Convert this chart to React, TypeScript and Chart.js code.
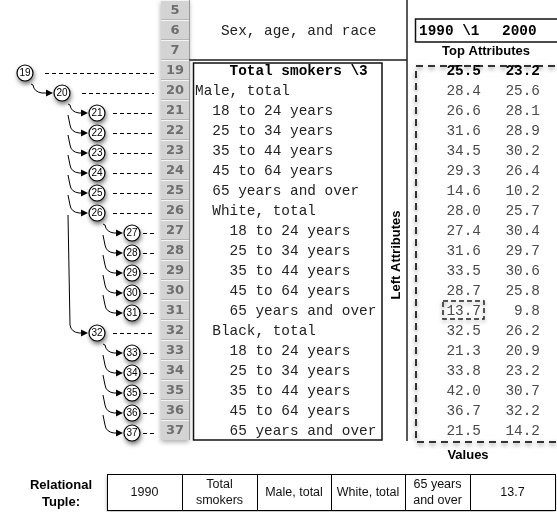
import React, { useEffect, useRef } from 'react';
import { Chart, registerables } from 'chart.js';

Chart.register(...registerables);

// ---- data ----
const rowNumbers = ['5', '6', '7', '19', '20', '21', '22', '23', '24', '25', '26', '27', '28', '29', '30', '31', '32', '33', '34', '35', '36', '37'];
const rowLabels = [
  '', '   Sex, age, and race', '',
  '    Total smokers \\3',
  'Male, total',
  '  18 to 24 years', '  25 to 34 years', '  35 to 44 years', '  45 to 64 years', '  65 years and over',
  '  White, total',
  '    18 to 24 years', '    25 to 34 years', '    35 to 44 years', '    45 to 64 years', '    65 years and over',
  '  Black, total',
  '    18 to 24 years', '    25 to 34 years', '    35 to 44 years', '    45 to 64 years', '    65 years and over',
];
const boldRow = '19';
const topAttributes = ['1990 \\1', '2000'];
const valueRows = ['19', '20', '21', '22', '23', '24', '25', '26', '27', '28', '29', '30', '31', '32', '33', '34', '35', '36', '37'];
const values1990 = [25.5, 28.4, 26.6, 31.6, 34.5, 29.3, 14.6, 28.0, 27.4, 31.6, 33.5, 28.7, 13.7, 32.5, 21.3, 33.8, 42.0, 36.7, 21.5];
const values2000 = [23.2, 25.6, 28.1, 28.9, 30.2, 26.4, 10.2, 25.7, 30.4, 29.7, 30.6, 25.8, 9.8, 26.2, 20.9, 23.2, 30.7, 32.2, 14.2];
const treeNodes = ['19', '20', '21', '22', '23', '24', '25', '26', '27', '28', '29', '30', '31', '32', '33', '34', '35', '36', '37'];
const treeParents = [null, '19', '20', '20', '20', '20', '20', '20', '26', '26', '26', '26', '26', '20', '32', '32', '32', '32', '32'];
const highlightRow = '31';
const highlightCol = 0;
const tupleLabel = ['Relational', 'Tuple:'];
const tupleCells = [['1990'], ['Total', 'smokers'], ['Male, total'], ['White, total'], ['65 years', 'and over'], ['13.7']];

const SANS = '"Liberation Sans", Arial, sans-serif';
const MONO = '"Liberation Mono", "DejaVu Sans Mono", monospace';

const diagramPlugin = {
  id: 'diagram',
  afterDraw(chart: any) {
    const ctx: CanvasRenderingContext2D = chart.ctx;
    const xs = chart.scales.x;
    const ys = chart.scales.y;
    const X = (v: number) => xs.getPixelForValue(v);
    const Y = (i: number) => ys.getPixelForValue(i);
    const rh = Math.abs(Y(1) - Y(0));
    const idx = (r: string) => rowNumbers.indexOf(r);
    const bottom = Y(rowNumbers.length - 0.5);

    ctx.save();
    // white background
    ctx.fillStyle = '#ffffff';
    ctx.fillRect(0, 0, chart.width, chart.height);

    // ---- row number column ----
    const cL = X(161), cR = X(189);
    ctx.save();
    ctx.shadowColor = 'rgba(0,0,0,0.35)';
    ctx.shadowBlur = 5;
    ctx.shadowOffsetY = 2;
    ctx.fillStyle = '#d3d3d3';
    ctx.fillRect(cL, Y(-0.5), cR - cL, bottom - Y(-0.5));
    ctx.restore();
    ctx.lineWidth = 1;
    for (let i = 0; i < rowNumbers.length; i++) {
      const top = Math.round(Y(i) - rh / 2) + 0.5;
      ctx.strokeStyle = '#f4f4f4';
      ctx.beginPath(); ctx.moveTo(cL, top); ctx.lineTo(cR, top); ctx.stroke();
      ctx.strokeStyle = '#b5b5b5';
      ctx.beginPath(); ctx.moveTo(cL, top - 1); ctx.lineTo(cR, top - 1); ctx.stroke();
    }
    ctx.strokeStyle = '#9a9a9a';
    ctx.beginPath(); ctx.moveTo(cR + 0.5, 0); ctx.lineTo(cR + 0.5, bottom); ctx.stroke();
    ctx.font = 'bold 13px "DejaVu Sans", sans-serif';
    ctx.fillStyle = '#6e6e6e';
    ctx.textAlign = 'center';
    ctx.textBaseline = 'middle';
    rowNumbers.forEach((r, i) => ctx.fillText(r, X(175), Y(i) + 1));

    // header separator & vertical divider
    ctx.strokeStyle = '#555';
    ctx.lineWidth = 2;
    ctx.beginPath(); ctx.moveTo(X(189), Y(2.5)); ctx.lineTo(X(407), Y(2.5)); ctx.stroke();
    ctx.strokeStyle = '#222';
    ctx.lineWidth = 1.5;
    ctx.beginPath(); ctx.moveTo(X(407), 0); ctx.lineTo(X(407), bottom + 1); ctx.stroke();

    // left attributes box
    ctx.strokeStyle = '#111';
    ctx.lineWidth = 1.5;
    ctx.strokeRect(X(193.5), Y(2.65), X(382) - X(193.5), bottom - Y(2.65));

    // row labels
    ctx.textAlign = 'left';
    rowLabels.forEach((t, i) => {
      if (!t) return;
      const b = rowNumbers[i] === boldRow;
      ctx.font = (b ? 'bold ' : '') + '14.4px ' + MONO;
      ctx.fillStyle = b ? '#000' : '#222';
      ctx.fillText(t, X(195), Y(i) + 1);
    });

    // Left Attributes label
    ctx.save();
    ctx.translate(X(396), (Y(3) + bottom) / 2);
    ctx.rotate(-Math.PI / 2);
    ctx.textAlign = 'center';
    ctx.font = 'bold 13px ' + SANS;
    ctx.fillStyle = '#000';
    ctx.fillText('Left Attributes', 0, 0);
    ctx.restore();

    // Top attributes box
    ctx.strokeStyle = '#111';
    ctx.lineWidth = 1.5;
    ctx.strokeRect(X(415.5), Y(0.45), 200, Y(1.6) - Y(0.45));
    ctx.font = 'bold 14.4px ' + MONO;
    ctx.fillStyle = '#000';
    ctx.textAlign = 'left';
    ctx.fillText(topAttributes[0], X(419), Y(1.05));
    ctx.fillText(topAttributes[1], X(502), Y(1.05));
    ctx.font = 'bold 13px ' + SANS;
    ctx.textAlign = 'center';
    ctx.fillText('Top Attributes', X(486), Y(2.05));

    // dashed values box
    ctx.save();
    ctx.shadowColor = 'rgba(0,0,0,0.45)';
    ctx.shadowBlur = 4;
    ctx.shadowOffsetY = 2;
    ctx.setLineDash([7, 5]);
    ctx.lineWidth = 2;
    ctx.strokeStyle = '#333';
    ctx.strokeRect(X(416), Y(2.8), 200, bottom + 2 - Y(2.8));
    ctx.restore();

    // values
    ctx.textAlign = 'right';
    valueRows.forEach((r, k) => {
      const i = idx(r);
      const b = r === boldRow;
      ctx.font = (b ? 'bold ' : '') + '14.4px ' + MONO;
      ctx.fillStyle = b ? '#000' : '#4a4a4a';
      ctx.fillText(values1990[k].toFixed(1), X(481), Y(i) + 1);
      ctx.fillText(values2000[k].toFixed(1), X(540), Y(i) + 1);
    });

    // highlighted cell
    {
      const i = idx(highlightRow);
      const hx = highlightCol === 0 ? 443 : 503;
      ctx.save();
      ctx.shadowColor = 'rgba(0,0,0,0.45)';
      ctx.shadowBlur = 4;
      ctx.shadowOffsetY = 2;
      ctx.setLineDash([5, 3]);
      ctx.lineWidth = 1.5;
      ctx.strokeStyle = '#222';
      ctx.strokeRect(X(hx), Y(i) - 9, X(hx + 41) - X(hx), 18);
      ctx.restore();
    }

    ctx.font = 'bold 13px ' + SANS;
    ctx.fillStyle = '#000';
    ctx.textAlign = 'center';
    ctx.fillText('Values', X(468), bottom + 15);

    // ---- tree ----
    const levelX = [25, 62, 97, 132];
    const dashStart = [45, 82, 113, 143];
    const level: Record<string, number> = {};
    const cyOf = (r: string) => Y(idx(r)) + 3;
    treeNodes.forEach((n, k) => {
      const p = treeParents[k];
      level[n] = p ? level[p] + 1 : 0;
    });
    // dashed leaders
    ctx.setLineDash([4, 3]);
    ctx.lineWidth = 1;
    ctx.strokeStyle = '#000';
    treeNodes.forEach((n) => {
      const cy = Math.round(cyOf(n)) + 0.5;
      ctx.beginPath();
      ctx.moveTo(X(dashStart[level[n]]), cy);
      ctx.lineTo(X(154), cy);
      ctx.stroke();
    });
    ctx.setLineDash([]);
    // arrows
    const lastChildY: Record<string, number> = {};
    treeNodes.forEach((n, k) => {
      const p = treeParents[k];
      if (!p) return;
      const pl = level[p];
      const ox = X(levelX[pl] + 6);
      const cy = cyOf(n);
      const start = lastChildY[p] !== undefined ? lastChildY[p] + 2 : cyOf(p) + 11;
      lastChildY[p] = cy;
      const tip = X(levelX[pl + 1] - 9);
      ctx.strokeStyle = '#000';
      ctx.lineWidth = 1;
      ctx.beginPath();
      ctx.moveTo(ox, start);
      ctx.lineTo(ox + 2, cy - 8);
      ctx.quadraticCurveTo(ox + 3, cy - 1, ox + 11, cy);
      ctx.lineTo(tip - 5, cy);
      ctx.stroke();
      ctx.fillStyle = '#000';
      ctx.beginPath();
      ctx.moveTo(tip, cy);
      ctx.lineTo(tip - 7, cy - 3.5);
      ctx.lineTo(tip - 7, cy + 3.5);
      ctx.closePath();
      ctx.fill();
    });
    // circles
    treeNodes.forEach((n) => {
      const cx = X(levelX[level[n]]);
      const cy = cyOf(n);
      ctx.save();
      ctx.shadowColor = 'rgba(0,0,0,0.6)';
      ctx.shadowBlur = 5;
      ctx.shadowOffsetX = 1;
      ctx.shadowOffsetY = 3;
      ctx.fillStyle = '#fff';
      ctx.beginPath();
      ctx.arc(cx, cy, 8, 0, Math.PI * 2);
      ctx.fill();
      ctx.restore();
      ctx.strokeStyle = '#000';
      ctx.lineWidth = 1.2;
      ctx.beginPath();
      ctx.arc(cx, cy, 8, 0, Math.PI * 2);
      ctx.stroke();
      ctx.font = '10px ' + SANS;
      ctx.fillStyle = '#000';
      ctx.textAlign = 'center';
      ctx.textBaseline = 'middle';
      ctx.fillText(n, cx, cy + 0.5);
    });

    // ---- relational tuple ----
    const tTop = bottom + 34;
    const tBot = bottom + 70;
    ctx.font = 'bold 13px ' + SANS;
    ctx.fillStyle = '#000';
    ctx.textAlign = 'center';
    ctx.fillText(tupleLabel[0], X(61), tTop + 11);
    ctx.fillText(tupleLabel[1], X(61), tTop + 28);
    const edges = [107, 182, 257, 331, 405, 470, 555];
    ctx.save();
    ctx.shadowColor = 'rgba(0,0,0,0.4)';
    ctx.shadowBlur = 3;
    ctx.shadowOffsetY = 1.5;
    ctx.fillStyle = '#fff';
    ctx.fillRect(X(edges[0]), tTop, X(edges[6]) - X(edges[0]), tBot - tTop);
    ctx.restore();
    ctx.strokeStyle = '#000';
    ctx.lineWidth = 1;
    ctx.strokeRect(X(edges[0]) + 0.5, tTop + 0.5, X(edges[6]) - X(edges[0]), tBot - tTop);
    for (let c = 1; c < edges.length - 1; c++) {
      ctx.beginPath();
      ctx.moveTo(X(edges[c]) + 0.5, tTop);
      ctx.lineTo(X(edges[c]) + 0.5, tBot);
      ctx.stroke();
    }
    ctx.font = '12.5px ' + SANS;
    ctx.fillStyle = '#111';
    tupleCells.forEach((lines, c) => {
      const cx = (X(edges[c]) + X(edges[c + 1])) / 2;
      const mid = (tTop + tBot) / 2 + 1;
      if (lines.length === 1) ctx.fillText(lines[0], cx, mid);
      else {
        ctx.fillText(lines[0], cx, mid - 8);
        ctx.fillText(lines[1], cx, mid + 8);
      }
    });
    ctx.restore();
  },
};

export default function App() {
  const ref = useRef<HTMLCanvasElement | null>(null);
  useEffect(() => {
    document.body.style.margin = '0';
    const canvas = ref.current;
    if (!canvas) return;
    const chart = new Chart(canvas, {
      type: 'scatter',
      data: { datasets: [] },
      options: {
        animation: false,
        responsive: false,
        devicePixelRatio: 1,
        events: [],
        layout: { padding: { top: 0, left: 0, right: 0, bottom: 72 } },
        plugins: { legend: { display: false }, tooltip: { enabled: false } },
        scales: {
          x: { type: 'linear', min: 0, max: 557, display: false },
          y: { type: 'linear', min: -0.5, max: rowNumbers.length - 0.5, reverse: true, display: false },
        },
      },
      plugins: [diagramPlugin],
    });
    return () => chart.destroy();
  }, []);
  return <canvas ref={ref} width={557} height={512} style={{ display: 'block' }} />;
}
